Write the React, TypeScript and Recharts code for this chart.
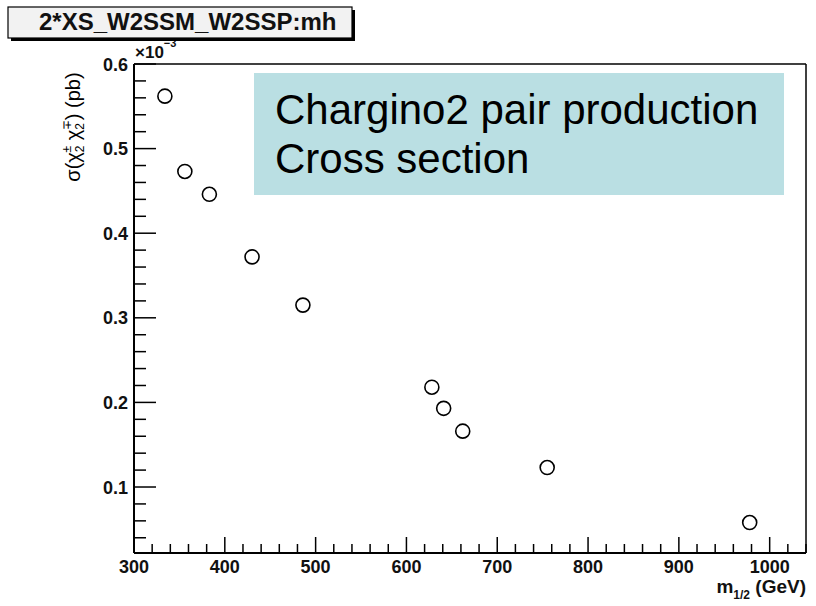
import React, { useEffect, useState } from 'react';
import { ScatterChart, Scatter, XAxis, YAxis } from 'recharts';

// m_{1/2} (GeV)
const M_HALF = [334, 356, 383, 430, 486, 628, 641, 662, 755, 978];
// sigma (x 10^-3 pb)
const XSEC = [0.562, 0.473, 0.446, 0.372, 0.315, 0.218, 0.193, 0.166, 0.123, 0.058];

const X_DOMAIN: [number, number] = [300, 1040];
const Y_DOMAIN: [number, number] = [0.022, 0.6];
const X_MAJOR = [300, 400, 500, 600, 700, 800, 900, 1000];
const Y_MAJOR = [0.1, 0.2, 0.3, 0.4, 0.5, 0.6];

const X_MINOR: number[] = [];
for (let v = 300; v <= 1040; v += 20) X_MINOR.push(v);
const Y_MINOR: number[] = [];
for (let k = 2; k <= 30; k++) Y_MINOR.push(Math.round(k * 2) / 100);

const data = M_HALF.map((x, i) => ({ x, y: XSEC[i] }));
const xTickMarks = X_MINOR.map((x) => ({ x, y: Y_DOMAIN[0] }));
const yTickMarks = Y_MINOR.map((y) => ({ x: X_DOMAIN[0], y }));

const FONT = '"Liberation Sans", Arial, Helvetica, sans-serif';

const XLabel = (props: any) => {
  const { x, y, payload } = props;
  return (
    <text x={x} y={y + 20} textAnchor="middle" fontFamily={FONT} fontWeight="bold" fontSize={18} fill="#111">
      {payload.value}
    </text>
  );
};

const YLabel = (props: any) => {
  const { x, y, payload } = props;
  return (
    <text x={x - 6} y={y + 6.5} textAnchor="end" fontFamily={FONT} fontWeight="bold" fontSize={18} fill="#111">
      {Number(payload.value).toFixed(1)}
    </text>
  );
};

const XTickMark = (props: any) => {
  const { cx, cy, payload } = props;
  const major = payload && X_MAJOR.includes(payload.x);
  return <path d={`M${cx},${cy}L${cx},${cy - (major ? 16 : 9)}`} stroke="#000" strokeWidth={1.5} fill="none" />;
};

const YTickMark = (props: any) => {
  const { cx, cy, payload } = props;
  const major = payload && Y_MAJOR.some((m) => Math.abs(m - payload.y) < 1e-6);
  return <path d={`M${cx},${cy}L${cx + (major ? 22 : 12)},${cy}`} stroke="#000" strokeWidth={1.5} fill="none" />;
};

const Marker = (props: any) => {
  const { cx, cy } = props;
  return <circle cx={cx} cy={cy} r={7} fill="none" stroke="#000" strokeWidth={1.6} />;
};

export default function App() {
  // a visible update after mount forces a full repaint of the chart
  const [pass, setPass] = useState(0);
  useEffect(() => {
    const t = setTimeout(() => setPass(1), 300);
    return () => clearTimeout(t);
  }, []);
  const expo = pass ? '\u22123' : '-3';
  return (
    <div data-pass={pass} style={{ position: 'absolute', left: 0, top: 0, width: 816, height: 606, background: '#fff' }}>
      <ScatterChart width={816} height={606} margin={{ top: 63, right: 9, bottom: 0, left: 0 }}>
        <XAxis
          type="number"
          dataKey="x"
          domain={X_DOMAIN}
          ticks={X_MAJOR}
          interval={0}
          height={53}
          tickSize={0}
          tickMargin={0}
          tickLine={false}
          axisLine={{ stroke: '#000', strokeWidth: 2 }}
          tick={<XLabel />}
        />
        <XAxis
          xAxisId="top"
          orientation="top"
          type="number"
          domain={X_DOMAIN}
          height={1}
          tick={false}
          tickLine={false}
          axisLine={{ stroke: '#000', strokeWidth: 1.5 }}
        />
        <YAxis
          type="number"
          dataKey="y"
          domain={Y_DOMAIN}
          ticks={Y_MAJOR}
          interval={0}
          width={134}
          tickSize={0}
          tickMargin={0}
          tickLine={false}
          axisLine={{ stroke: '#000', strokeWidth: 2 }}
          tick={<YLabel />}
        />
        <YAxis
          yAxisId="right"
          orientation="right"
          type="number"
          domain={Y_DOMAIN}
          width={1}
          tick={false}
          tickLine={false}
          axisLine={{ stroke: '#000', strokeWidth: 1.5 }}
        />
        <Scatter data={xTickMarks} shape={<XTickMark />} isAnimationActive={false} />
        <Scatter data={yTickMarks} shape={<YTickMark />} isAnimationActive={false} />
        <Scatter data={data} shape={<Marker />} isAnimationActive={false} />
      </ScatterChart>

      <svg
        width={816}
        height={606}
        style={{ position: 'absolute', left: 0, top: 0, pointerEvents: 'none' }}
      >
        {/* x10^-3 multiplier */}
        <text x={135} y={58} fontFamily={FONT} fontWeight="bold" fontSize={17} fill="#111">
          ×10
          <tspan fontSize={11} dy={-11}>{expo}</tspan>
        </text>

        {/* title box */}
        <rect x={11} y={10} width={344} height={31} fill="#000" />
        <rect x={8} y={7} width={344} height={31} fill="#f2f2f2" stroke="#000" strokeWidth={1.2} />
        <text x={39} y={30} fontFamily={FONT} fontWeight="bold" fontSize={24} fill="#111">
          2*XS_W2SSM_W2SSP:mh
        </text>

        {/* y axis title */}
        <text
          transform="translate(80,127) rotate(-90)"
          textAnchor="middle"
          fontFamily={FONT}
          fontSize={20}
          fill="#000"
        >
          σ(χ
          <tspan fontSize={12} dy={4}>2</tspan>
          <tspan fontSize={12} dx={-7} dy={-13}>±</tspan>
          <tspan dy={9}> χ</tspan>
          <tspan fontSize={12} dy={4}>2</tspan>
          <tspan fontSize={12} dx={-7} dy={-13}>∓</tspan>
          <tspan dy={9}>) (pb)</tspan>
        </text>

        {/* x axis title */}
        <text x={806} y={593} textAnchor="end" fontFamily={FONT} fontWeight="bold" fontSize={19} fill="#111">
          m
          <tspan fontSize={12} dy={6}>1/2</tspan>
          <tspan dy={-6}> (GeV)</tspan>
        </text>
      </svg>

      {/* annotation box */}
      <div
        style={{
          position: 'absolute',
          left: 254,
          top: 73,
          width: 530,
          height: 122,
          background: '#BADFE3',
          boxSizing: 'border-box',
          paddingLeft: 21,
          paddingTop: 12,
          fontFamily: FONT,
          fontSize: 42,
          lineHeight: '49px',
          color: '#000',
          whiteSpace: 'nowrap',
        }}
      >
        Chargino2 pair production
        <br />
        Cross section
      </div>
    </div>
  );
}
